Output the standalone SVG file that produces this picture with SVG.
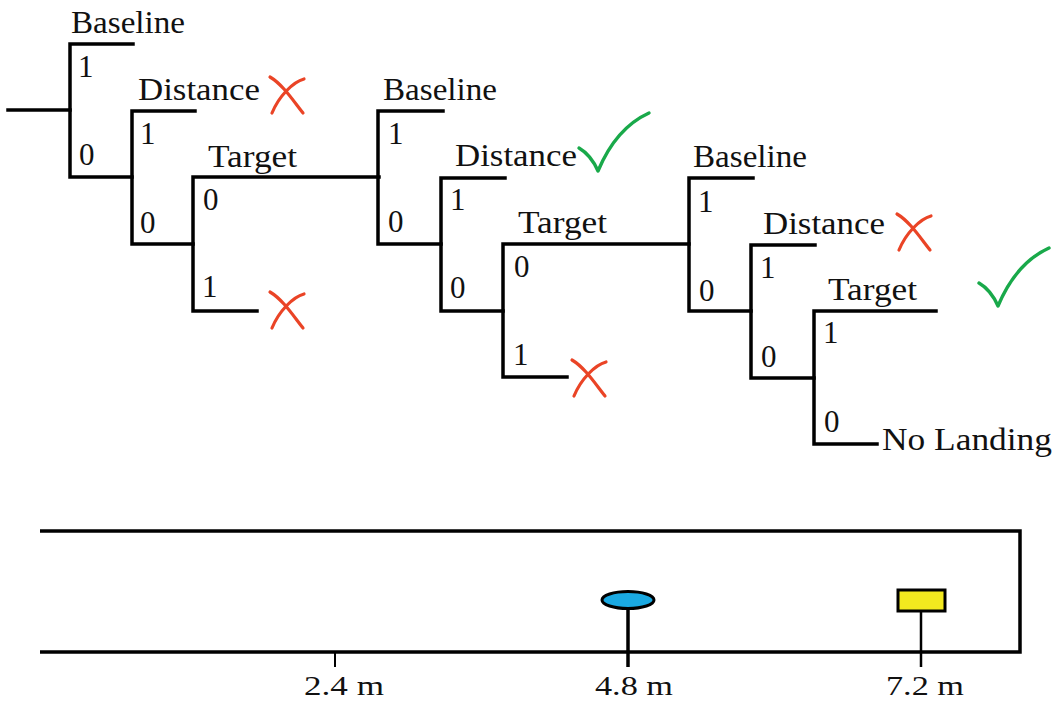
<svg xmlns="http://www.w3.org/2000/svg" xmlns:xlink="http://www.w3.org/1999/xlink" width="1060" height="702" viewBox="0 0 1060 702">
  <style>
    .wire { fill: none; stroke: #000; stroke-width: 3.5; stroke-linecap: square; stroke-linejoin: miter; }
    text { font-family: "Liberation Serif", "DejaVu Serif", serif; fill: #111; }
    .lbl { font-size: 31px; }
    .bit { font-size: 31px; }
    .dist { font-size: 28px; }
    .fail { fill: none; stroke: #ea4426; stroke-width: 3.2; stroke-linecap: round; }
    .pass { fill: none; stroke: #19a94a; stroke-width: 3.4; stroke-linecap: round; stroke-linejoin: round; }
    .rail { fill: none; stroke: #000; stroke-width: 3.5; }
  </style>
  <defs>
    <symbol id="cross" viewBox="0 0 38 40" width="38" height="40" overflow="visible">
      <path class="fail" d="M2,2 C14,9 24,24 35,38"/>
      <path class="fail" d="M36,4 C25,7 11,21 4,38"/>
    </symbol>
    <symbol id="tick" viewBox="0 0 72 60" width="72" height="60" overflow="visible">
      <path class="pass" d="M1,36 Q13,43 20,59 Q38,16 71,1"/>
    </symbol>
  </defs>

  <rect width="1060" height="702" fill="#fff"/>

  <!-- decision tree wiring -->
  <g id="connectors">
    <path class="wire" d="M8,110 H70"/>
    <!-- stage 1 -->
    <path class="wire" d="M133,44 H70 V177 H132"/>
    <path class="wire" d="M195,111 H132 V244 H193"/>
    <path class="wire" d="M379,177 H193 V311 H257"/>
    <!-- stage 2 -->
    <path class="wire" d="M443,111 H378 V244 H441"/>
    <path class="wire" d="M505,178 H441 V311 H503"/>
    <path class="wire" d="M689,244 H503 V377 H567"/>
    <!-- stage 3 -->
    <path class="wire" d="M753,178 H689 V311 H751"/>
    <path class="wire" d="M815,245 H751 V378 H814"/>
    <path class="wire" d="M936,311 H814 V444 H877"/>
  </g>

  <!-- stage 1 -->
  <g id="baseline-1">
    <text class="lbl" x="71" y="33" textLength="114" lengthAdjust="spacingAndGlyphs">Baseline</text>
    <text class="bit" x="78" y="77">1</text>
    <text class="bit" x="79" y="165">0</text>
  </g>
  <g id="distance-1">
    <text class="lbl" x="138" y="100" textLength="122" lengthAdjust="spacingAndGlyphs">Distance</text>
    <text class="bit" x="140" y="144">1</text>
    <text class="bit" x="140" y="233">0</text>
  </g>
  <g id="target-1">
    <text class="lbl" x="208" y="167" textLength="89" lengthAdjust="spacingAndGlyphs">Target</text>
    <text class="bit" x="203" y="210">0</text>
    <text class="bit" x="202" y="297">1</text>
  </g>

  <!-- stage 2 -->
  <g id="baseline-2">
    <text class="lbl" x="383" y="100" textLength="114" lengthAdjust="spacingAndGlyphs">Baseline</text>
    <text class="bit" x="388" y="144">1</text>
    <text class="bit" x="388" y="232">0</text>
  </g>
  <g id="distance-2">
    <text class="lbl" x="455" y="166" textLength="122" lengthAdjust="spacingAndGlyphs">Distance</text>
    <text class="bit" x="450" y="210">1</text>
    <text class="bit" x="450" y="298">0</text>
  </g>
  <g id="target-2">
    <text class="lbl" x="518" y="233" textLength="89" lengthAdjust="spacingAndGlyphs">Target</text>
    <text class="bit" x="514" y="277">0</text>
    <text class="bit" x="513" y="365">1</text>
  </g>

  <!-- stage 3 -->
  <g id="baseline-3">
    <text class="lbl" x="693" y="167" textLength="114" lengthAdjust="spacingAndGlyphs">Baseline</text>
    <text class="bit" x="698" y="212">1</text>
    <text class="bit" x="699" y="301">0</text>
  </g>
  <g id="distance-3">
    <text class="lbl" x="763" y="234" textLength="122" lengthAdjust="spacingAndGlyphs">Distance</text>
    <text class="bit" x="760" y="278">1</text>
    <text class="bit" x="761" y="367">0</text>
  </g>
  <g id="target-3">
    <text class="lbl" x="828" y="300" textLength="89" lengthAdjust="spacingAndGlyphs">Target</text>
    <text class="bit" x="823" y="343">1</text>
    <text class="bit" x="824" y="432">0</text>
  </g>
  <g id="no-landing">
    <text class="lbl" x="882" y="450" textLength="170" lengthAdjust="spacingAndGlyphs">No Landing</text>
  </g>

  <!-- outcome marks -->
  <g id="outcomes">
    <use xlink:href="#cross" href="#cross" x="268" y="75"/>
    <use xlink:href="#cross" href="#cross" x="268" y="290"/>
    <use xlink:href="#cross" href="#cross" x="570" y="358"/>
    <use xlink:href="#cross" href="#cross" x="895" y="212"/>
    <use xlink:href="#tick" href="#tick" x="578" y="112"/>
    <use xlink:href="#tick" href="#tick" x="978" y="247"/>
  </g>

  <!-- runway with distance markers -->
  <g id="runway">
    <path class="rail" d="M40,531 H1020 V652 H40"/>
    <line x1="335" y1="652" x2="335" y2="667" stroke="#000" stroke-width="2"/>
    <line x1="628" y1="609" x2="628" y2="667" stroke="#000" stroke-width="3.5"/>
    <line x1="921" y1="611" x2="921" y2="667" stroke="#000" stroke-width="2.5"/>
    <ellipse cx="628" cy="600" rx="26" ry="8.5" fill="#1aa9e2" stroke="#000" stroke-width="3"/>
    <rect x="898" y="590" width="47" height="21" fill="#f3e91f" stroke="#000" stroke-width="3"/>
    <text class="dist" x="304" y="695" textLength="80" lengthAdjust="spacingAndGlyphs">2.4 m</text>
    <text class="dist" x="595" y="695" textLength="78" lengthAdjust="spacingAndGlyphs">4.8 m</text>
    <text class="dist" x="886" y="695" textLength="78" lengthAdjust="spacingAndGlyphs">7.2 m</text>
  </g>
</svg>
